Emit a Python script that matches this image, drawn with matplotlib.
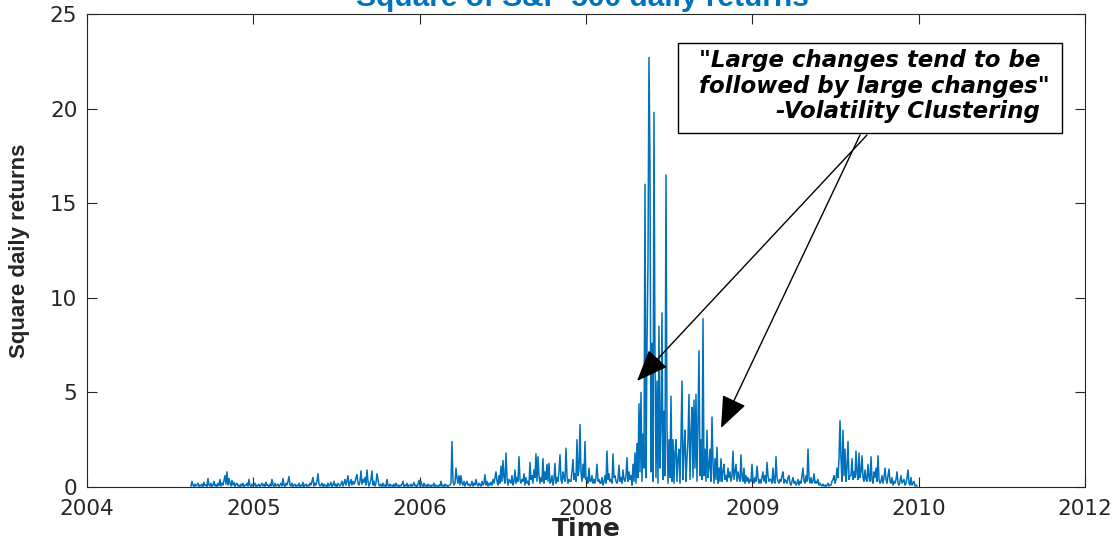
import numpy as np
import matplotlib
matplotlib.use("Agg")
import matplotlib.pyplot as plt
from matplotlib.patches import Rectangle

# ---------------- data ----------------
title = "Square of S&P 500 daily returns"
xlabel = "Time"
ylabel = "Square daily returns"
tick_pos = [0, 1, 2, 3, 4, 5, 6]
tick_labels = ["2004", "2005", "2006", "2008", "2009", "2010", "2012"]
ytick_vals = [0, 5, 10, 15, 20, 25]
series_start, series_end = 0.625, 4.99   # position of first / last observation on the time axis

sq_returns = [
    0.05, 0.3, 0.1, 0.02, 0.15, 0.05, 0.1, 0.2, 0.03, 0.1,
    0.05, 0.15, 0.02, 0.25, 0.08, 0.1, 0.03, 0.45, 0.1, 0.05,
    0.2, 0.03, 0.1, 0.3, 0.05, 0.12, 0.02, 0.2, 0.08, 0.4,
    0.05, 0.2, 0.1, 0.35, 0.6, 0.15, 0.8, 0.1, 0.45, 0.2,
    0.05, 0.35, 0.1, 0.25, 0.03, 0.15, 0.2, 0.05, 0.1, 0.02,
    0.15, 0.05, 0.2, 0.03, 0.1, 0.08, 0.2, 0.05, 0.4, 0.1,
    0.02, 0.15, 0.05, 0.1, 0.2, 0.03, 0.1, 0.05, 0.15, 0.02,
    0.1, 0.2, 0.05, 0.15, 0.03, 0.25, 0.08, 0.1, 0.02, 0.15,
    0.05, 0.4, 0.1, 0.03, 0.2, 0.05, 0.1, 0.15, 0.02, 0.1,
    0.2, 0.05, 0.45, 0.1, 0.03, 0.2, 0.1, 0.3, 0.55, 0.1,
    0.05, 0.2, 0.03, 0.1, 0.15, 0.02, 0.1, 0.05, 0.2, 0.03,
    0.1, 0.05, 0.25, 0.02, 0.1, 0.15, 0.03, 0.1, 0.05, 0.2,
    0.1, 0.3, 0.5, 0.05, 0.2, 0.1, 0.3, 0.7, 0.15, 0.05,
    0.1, 0.2, 0.03, 0.15, 0.05, 0.1, 0.02, 0.2, 0.05, 0.1,
    0.25, 0.03, 0.1, 0.3, 0.05, 0.15, 0.02, 0.2, 0.1, 0.05,
    0.15, 0.3, 0.05, 0.2, 0.4, 0.1, 0.3, 0.6, 0.05, 0.2,
    0.4, 0.1, 0.3, 0.15, 0.25, 0.5, 0.65, 0.2, 0.1, 0.3,
    0.85, 0.15, 0.4, 0.25, 0.5, 0.1, 0.9, 0.3, 0.05, 0.2,
    0.4, 0.85, 0.1, 0.3, 0.05, 0.2, 0.7, 0.4, 0.1, 0.05,
    0.15, 0.03, 0.2, 0.05, 0.1, 0.02, 0.4, 0.1, 0.03, 0.15,
    0.05, 0.1, 0.02, 0.15, 0.03, 0.2, 0.05, 0.1, 0.02, 0.1,
    0.05, 0.15, 0.3, 0.03, 0.1, 0.05, 0.2, 0.02, 0.1, 0.05,
    0.15, 0.03, 0.1, 0.25, 0.05, 0.1, 0.02, 0.15, 0.35, 0.05,
    0.3, 0.1, 0.03, 0.2, 0.05, 0.1, 0.02, 0.15, 0.05, 0.1,
    0.02, 0.1, 0.05, 0.2, 0.03, 0.1, 0.05, 0.02, 0.1, 0.05,
    0.3, 0.05, 0.1, 0.02, 0.15, 0.05, 0.1, 0.03, 0.08, 0.1,
    0.2, 2.4, 0.3, 0.1, 0.2, 1.0, 0.5, 0.2, 0.6, 0.1,
    0.6, 0.2, 0.1, 0.3, 0.05, 0.2, 0.3, 0.1, 0.15, 0.05,
    0.1, 0.3, 0.05, 0.2, 0.1, 0.4, 0.15, 0.05, 0.2, 0.1,
    0.05, 0.3, 0.1, 0.2, 0.65, 0.1, 0.3, 0.05, 0.2, 0.1,
    0.25, 0.1, 0.4, 0.2, 0.5, 0.8, 0.3, 0.1, 0.6, 0.2,
    1.1, 0.3, 1.4, 0.5, 0.2, 1.8, 0.5, 0.1, 0.4, 0.3,
    0.2, 0.6, 0.1, 0.3, 0.9, 0.2, 0.5, 0.3, 1.6, 0.4,
    0.2, 0.4, 0.3, 0.7, 0.1, 0.5, 0.2, 0.3, 0.1, 1.3,
    0.4, 0.6, 0.2, 0.9, 0.5, 1.75, 0.3, 1.6, 0.6, 0.2,
    0.5, 0.3, 1.5, 0.2, 0.8, 0.4, 1.2, 0.3, 1.25, 0.2,
    0.3, 0.6, 0.1, 0.4, 1.25, 0.2, 0.5, 0.3, 0.8, 1.7,
    0.4, 0.2, 0.8, 0.5, 0.3, 2.05, 0.6, 0.2, 0.4, 0.3,
    0.3, 0.8, 1.45, 0.4, 0.7, 0.3, 2.5, 0.6, 0.9, 3.3,
    0.8, 0.3, 1.2, 0.5, 2.4, 0.4, 0.5, 0.2, 1.0, 0.3,
    0.3, 0.6, 0.2, 0.4, 0.2, 0.5, 1.2, 0.3, 0.4, 0.2,
    0.2, 0.5, 0.1, 0.3, 0.6, 0.2, 1.9, 0.4, 0.7, 0.3,
    0.4, 0.2, 1.75, 0.5, 0.6, 0.3, 0.2, 0.4, 1.15, 0.3,
    0.5, 0.2, 0.9, 0.4, 0.3, 0.6, 1.55, 0.3, 0.8, 0.4,
    0.6, 0.1, 1.2, 0.3, 1.8, 0.2, 2.3, 0.5, 4.4, 0.8,
    5.0, 0.3, 2.8, 1.0, 16.0, 0.5, 7.5, 11.9, 22.7, 17.0,
    0.8, 7.6, 0.3, 19.8, 6.9, 0.5, 5.6, 0.2, 8.5, 1.0,
    3.0, 9.2, 0.4, 4.0, 0.6, 16.5, 3.2, 0.2, 2.5, 0.5,
    4.8, 0.3, 2.5, 0.2, 1.8, 2.5, 0.3, 1.5, 2.0, 0.2,
    2.5, 5.6, 0.4, 2.0, 3.0, 0.3, 1.5, 2.5, 4.9, 0.4,
    2.8, 4.2, 0.5, 4.6, 1.0, 4.9, 0.3, 3.5, 7.2, 0.6,
    2.5, 0.4, 8.9, 0.6, 2.0, 0.3, 3.0, 0.5, 1.0, 2.0,
    0.3, 3.7, 1.2, 0.2, 1.5, 0.4, 2.1, 0.2, 1.0, 0.3,
    1.5, 0.3, 0.8, 1.2, 0.4, 0.6, 0.3, 1.0, 0.5, 0.8,
    0.3, 0.6, 1.9, 0.4, 0.8, 1.2, 0.3, 0.8, 0.5, 0.3,
    1.7, 0.5, 0.3, 1.0, 0.2, 0.6, 0.3, 0.5, 0.2, 0.4,
    0.3, 1.2, 0.4, 0.2, 0.5, 0.3, 1.1, 0.5, 0.2, 0.4,
    0.2, 0.5, 0.8, 0.3, 0.6, 0.2, 1.3, 0.6, 0.3, 0.4,
    0.4, 0.2, 1.0, 0.3, 0.2, 1.6, 0.5, 0.3, 0.2, 0.4,
    0.3, 0.6, 0.8, 0.2, 0.4, 0.3, 0.2, 0.5, 0.6, 0.2,
    0.1, 0.3, 0.5, 0.2, 0.3, 0.1, 0.2, 0.4, 0.1, 0.3,
    0.2, 0.6, 1.0, 0.3, 0.2, 0.6, 0.3, 2.0, 0.5, 0.2,
    0.5, 0.2, 0.3, 0.7, 0.2, 0.3, 0.2, 0.4, 0.1, 0.2,
    0.1, 0.05, 0.15, 0.05, 0.1, 0.03, 0.1, 0.2, 0.05, 0.1,
    0.1, 0.3, 0.4, 0.6, 0.2, 0.4, 1.0, 0.5, 1.5, 3.5,
    1.5, 0.3, 3.0, 0.6, 2.0, 0.3, 1.0, 2.4, 0.4, 0.6,
    0.6, 1.5, 0.4, 0.8, 0.5, 1.9, 0.7, 0.4, 1.8, 0.5,
    0.8, 1.65, 0.5, 0.3, 0.9, 0.4, 0.3, 1.2, 0.5, 0.3,
    1.6, 0.4, 0.2, 0.8, 0.5, 1.0, 0.3, 1.65, 0.4, 0.2,
    0.3, 0.6, 0.2, 0.5, 1.0, 0.4, 0.2, 0.6, 0.95, 0.3,
    0.2, 0.5, 0.1, 0.3, 0.2, 0.4, 0.8, 0.2, 0.1, 0.3,
    0.6, 0.2, 0.3, 0.4, 0.1, 0.2, 0.5, 0.9, 0.2, 0.1,
    0.5, 0.1, 0.2, 0.3, 0.05, 0.1, 0.05,
]

annot_lines = ['"Large changes tend to be', 'followed by large changes"', '-Volatility Clustering']

# ---------------- figure ----------------
line_color = "#0072BD"
axis_color = "#262626"

fig = plt.figure(figsize=(11.15, 5.41), dpi=100)
ax = fig.add_axes([87 / 1115, 54 / 541, 998 / 1115, 473 / 541])

x = np.linspace(series_start, series_end, len(sq_returns))
ax.plot(x, sq_returns, color=line_color, lw=1.1)

ax.set_xlim(0, 6)
ax.set_ylim(0, 25)
ax.set_xticks(tick_pos)
ax.set_xticklabels(tick_labels)
ax.set_yticks(ytick_vals)
ax.tick_params(direction="in", length=7, width=0.8, top=True, right=True,
               colors=axis_color, labelsize=15.5, pad=7)
ax.tick_params(axis="x", pad=8.5)
for lab in ax.get_xticklabels() + ax.get_yticklabels():
    lab.set_family("DejaVu Sans")
for s in ax.spines.values():
    s.set_color(axis_color)
    s.set_linewidth(0.8)

ax.set_xlabel(xlabel, fontsize=18, fontweight="bold", family="DejaVu Sans", color=axis_color)
ax.xaxis.set_label_coords(0.5, -0.088)
ax.xaxis.label.set_va("center")
ax.set_ylabel(ylabel, fontsize=16, fontweight="bold",
              family=["Liberation Sans Narrow", "Liberation Sans"], color=axis_color)
ax.yaxis.set_label_coords(-0.068, 0.5)
ax.yaxis.label.set_va("center")

fig.text(582 / 1115, 1 - 6 / 541, title, ha="center", va="baseline",
         fontsize=21.5, fontweight="bold", family="Liberation Sans", color=line_color)

# annotation box
bx0, bx1 = (678 - 87) / 998, (1062 - 87) / 998
by0, by1 = (487 - 133) / 473, (487 - 43) / 473
ax.add_patch(Rectangle((bx0, by0), bx1 - bx0, by1 - by0, transform=ax.transAxes,
                       facecolor="white", edgecolor="black", lw=1.0, zorder=5))
line_pos = [(1040, 67), (1050, 93), (1040, 118)]
for txt, (px, py) in zip(annot_lines, line_pos):
    ax.text((px - 87) / 998, (487 - py) / 473, txt, transform=ax.transAxes,
            ha="right", va="baseline", fontsize=16.5, fontweight="bold", style="italic",
            family="DejaVu Sans", color="black", zorder=6)

arrows = [((867, 135), (637, 381)), ((860, 135), (721, 428))]
for (sx, sy), (tx, ty) in arrows:
    ax.annotate("", xy=((tx - 87) / 998, (487 - ty) / 473),
                xytext=((sx - 87) / 998, (487 - sy) / 473),
                xycoords="axes fraction", textcoords="axes fraction",
                arrowprops=dict(arrowstyle="-|>,head_length=1.0,head_width=0.4",
                                mutation_scale=20, color="black", lw=1.0,
                                shrinkA=0, shrinkB=0), zorder=7)

fig.savefig("out.png", dpi=100)
